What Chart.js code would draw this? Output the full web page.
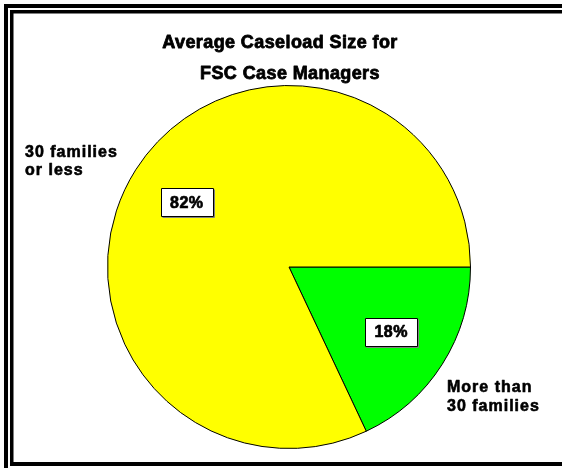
<!DOCTYPE html>
<html>
<head>
<meta charset="utf-8">
<script src="https://cdn.jsdelivr.net/npm/chart.js@4.4.1/dist/chart.umd.min.js"></script>
<style>
  html, body { margin: 0; padding: 0; background: #ffffff; }
  #wrap { width: 562px; height: 468px; position: relative; }
</style>
</head>
<body>
<div id="wrap"><canvas id="c" width="562" height="468"></canvas></div>
<script>
// ---- data ----
const categories = ["More than 30 families", "30 families or less"];
const values = [18, 82];
const percentLabels = ["18%", "82%"];
const sliceColors = ["#00FF00", "#FFFF00"];
const titleLines = ["Average Caseload Size for", "FSC Case Managers"];
const outsideLabels = [["More than", "30 families"], ["30 families", "or less"]];

const FONT = '"Liberation Sans", Arial, sans-serif';

function heavyText(ctx, text, x, y, stroke) {
  ctx.lineWidth = stroke;
  ctx.strokeStyle = '#000';
  ctx.lineJoin = 'round';
  ctx.strokeText(text, x, y);
  ctx.fillText(text, x, y);
}

const framePlugin = {
  id: 'frame',
  afterDraw(chart) {
    const ctx = chart.ctx;
    ctx.save();
    ctx.fillStyle = '#000';
    // outer frame (cut off at right and bottom)
    ctx.fillRect(4, 4, 4, 464);
    ctx.fillRect(4, 4, 558, 4);
    // inner frame
    ctx.fillRect(10, 10, 3.5, 456);
    ctx.fillRect(10, 10, 552, 3.5);
    ctx.fillRect(10, 462, 552, 4);
    ctx.restore();
  }
};

const labelPlugin = {
  id: 'labels',
  afterDatasetsDraw(chart) {
    const ctx = chart.ctx;
    const meta = chart.getDatasetMeta(0);
    ctx.save();
    // title
    ctx.fillStyle = '#000';
    ctx.textAlign = 'center';
    ctx.textBaseline = 'middle';
    ctx.font = 'bold 18px ' + FONT;
    ctx.letterSpacing = '0.4px';
    heavyText(ctx, titleLines[0], 280, 43, 0.8);
    heavyText(ctx, titleLines[1], 290, 74, 0.8);

    // percent boxes
    meta.data.forEach((arc, i) => {
      const p = arc.getProps(['x', 'y', 'startAngle', 'endAngle', 'outerRadius'], true);
      const mid = (p.startAngle + p.endAngle) / 2;
      const r = p.outerRadius * 0.667;
      const cx = p.x + Math.cos(mid) * r;
      const cy = p.y + Math.sin(mid) * r;
      const w = 52, h = 28;
      const bx = Math.round(cx - w / 2) + 0.5, by = Math.round(cy - h / 2) + 0.5;
      ctx.fillStyle = '#ffffff';
      ctx.fillRect(bx, by, w, h);
      ctx.strokeStyle = '#000';
      ctx.lineWidth = 1;
      ctx.strokeRect(bx, by, w, h);
      ctx.strokeStyle = '#808080';
      ctx.beginPath();
      ctx.moveTo(bx + w + 1, by + 1); ctx.lineTo(bx + w + 1, by + h + 1); ctx.lineTo(bx + 1, by + h + 1);
      ctx.stroke();
      ctx.fillStyle = '#000';
      ctx.font = 'bold 16px ' + FONT;
      ctx.letterSpacing = '0.5px';
      ctx.textAlign = 'center';
      ctx.textBaseline = 'middle';
      heavyText(ctx, percentLabels[i], cx, cy + 1, 0.7);
    });

    // outside category labels
    ctx.textAlign = 'left';
    ctx.textBaseline = 'middle';
    ctx.font = 'bold 16px ' + FONT;
    ctx.letterSpacing = '1px';
    ctx.fillStyle = '#000';
    const outPos = [[447, 388, 19], [25, 153, 18]];
    outsideLabels.forEach((lines, i) => {
      const [x, y, lh] = outPos[i];
      lines.forEach((t, j) => heavyText(ctx, t, x, y + j * lh, 0.6));
    });
    ctx.restore();
  }
};

new Chart(document.getElementById('c'), {
  type: 'pie',
  data: {
    labels: categories,
    datasets: [{
      data: values,
      backgroundColor: sliceColors,
      borderColor: '#000000',
      borderWidth: 1,
      hoverOffset: 0
    }]
  },
  options: {
    responsive: false,
    animation: false,
    rotation: 90,
    layout: { padding: { left: 107, top: 85, right: 91, bottom: 19 } },
    plugins: {
      legend: { display: false },
      title: { display: false },
      tooltip: { enabled: false }
    }
  },
  plugins: [labelPlugin, framePlugin]
});
</script>
</body>
</html>
